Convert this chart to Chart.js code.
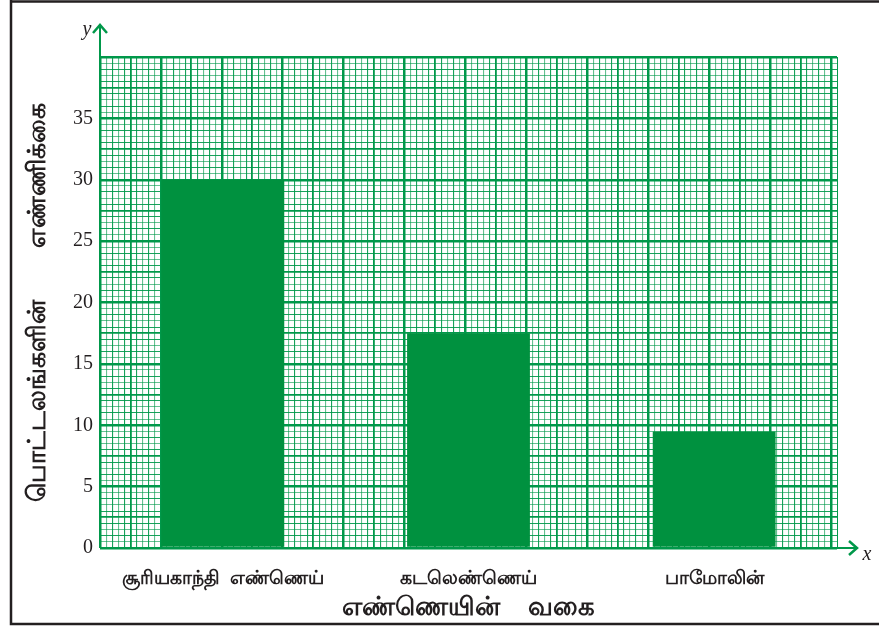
<!DOCTYPE html>
<html>
<head>
<meta charset="utf-8">
<script src="https://cdn.jsdelivr.net/npm/chart.js@4"></script>
<style>
  body { margin: 0; background: #fff; }
  #wrap { width: 879px; height: 630px; position: relative; }
</style>
</head>
<body>
<div id="wrap"><canvas id="oilChart"></canvas></div>
<script>
const categories = ['சூரியகாந்தி  எண்ணெய்', 'கடலெண்ணெய்', 'பாமோலின்'];
const packets = [30, 17.5, 9.5];
const yTicks = [0, 5, 10, 15, 20, 25, 30, 35];
const xTitle = 'எண்ணெயின்    வகை';
const yTitle = 'பொட்டலங்களின்        எண்ணிக்கை';

const green = '#00984a';
const barGreen = '#00913f';

function gridWidth(c) {
  if (!c.tick) return 1;
  const h = Math.round(c.tick.value * 2);
  if (h % 10 === 0) return 2.5;
  if (h % 5 === 0) return 1.8;
  return 1.1;
}
function gridColor(c) {
  if (!c.tick) return green;
  const h = Math.round(c.tick.value * 2);
  if (h % 5 === 0) return green;
  return h % 2 === 0 ? 'rgba(0,152,74,0.9)' : 'rgba(0,152,74,0.6)';
}

// frame, axis arrows and axis letters
const decor = {
  id: 'decor',
  afterDraw(chart) {
    const c = chart.ctx;
    const x0 = chart.scales.y.left + chart.scales.y.width;
    const y0 = chart.scales.y.getPixelForValue(0);
    const right = chart.chartArea.right;
    const top = chart.chartArea.top;
    c.save();
    c.strokeStyle = green;
    c.lineWidth = 2;
    c.beginPath();
    c.moveTo(x0, y0); c.lineTo(x0, top - 32);
    c.moveTo(x0, y0); c.lineTo(right + 20, y0);
    c.stroke();
    c.lineWidth = 2.5;
    c.beginPath();
    c.moveTo(x0 - 7, top - 24); c.lineTo(x0, top - 32); c.lineTo(x0 + 7, top - 24);
    c.moveTo(right + 12, y0 - 7); c.lineTo(right + 20, y0); c.lineTo(right + 12, y0 + 7);
    c.stroke();
    c.fillStyle = '#231f20';
    c.font = 'italic 20px "Liberation Serif"';
    c.textAlign = 'center';
    c.textBaseline = 'middle';
    c.fillText('y', x0 - 13, top - 27);
    c.fillText('x', right + 30, y0 + 7);
    c.strokeStyle = '#231f20';
    c.lineWidth = 2.5;
    c.beginPath();
    c.moveTo(11, 0); c.lineTo(11, 624); c.lineTo(879, 624);
    c.moveTo(11, 1.5); c.lineTo(879, 1.5);
    c.stroke();
    c.restore();
  }
};

new Chart(document.getElementById('oilChart'), {
  type: 'bar',
  data: {
    labels: categories,
    datasets: [{
      data: packets,
      backgroundColor: barGreen,
      borderWidth: 0,
      barPercentage: 0.5,
      categoryPercentage: 1
    }]
  },
  options: {
    responsive: true,
    maintainAspectRatio: false,
    animation: false,
    layout: { padding: { left: 0, right: 42, top: 57, bottom: 0 } },
    plugins: { legend: { display: false }, tooltip: { enabled: false } },
    scales: {
      x: {
        position: 'bottom',
        grid: { display: false, drawTicks: false },
        border: { display: false },
        ticks: {
          padding: 19,
          color: '#231f20',
          font: { family: '"Noto Sans", sans-serif', size: 19, weight: 'bold' }
        },
        title: {
          display: true,
          text: xTitle,
          color: '#231f20',
          font: { family: '"Noto Sans", sans-serif', size: 26, weight: 'bold' },
          padding: { top: 7, bottom: 7 }
        },
        afterFit: s => { s.height = 82; }
      },
      xg: {
        type: 'linear',
        position: 'top',
        min: 0,
        max: 60,
        grid: {
          drawTicks: false,
          color: gridColor,
          lineWidth: gridWidth
        },
        border: { display: false },
        ticks: { display: false, stepSize: 0.5, autoSkip: false },
        afterFit: s => { s.height = 0; }
      },
      y: {
        min: 0,
        max: 40,
        grid: {
          drawTicks: false,
          color: gridColor,
          lineWidth: gridWidth
        },
        border: { display: false },
        ticks: {
          stepSize: 0.5,
          autoSkip: false,
          padding: 7,
          color: '#231f20',
          font: { family: '"Liberation Serif", serif', size: 20 },
          callback: v => yTicks.includes(v) ? String(v) : ''
        },
        title: {
          display: true,
          text: yTitle,
          color: '#231f20',
          font: { family: '"Noto Sans", sans-serif', size: 25, weight: 'bold' },
          padding: { top: 23, bottom: 23 }
        },
        afterFit: s => { s.width = 100; }
      }
    }
  },
  plugins: [decor]
});
</script>
</body>
</html>
